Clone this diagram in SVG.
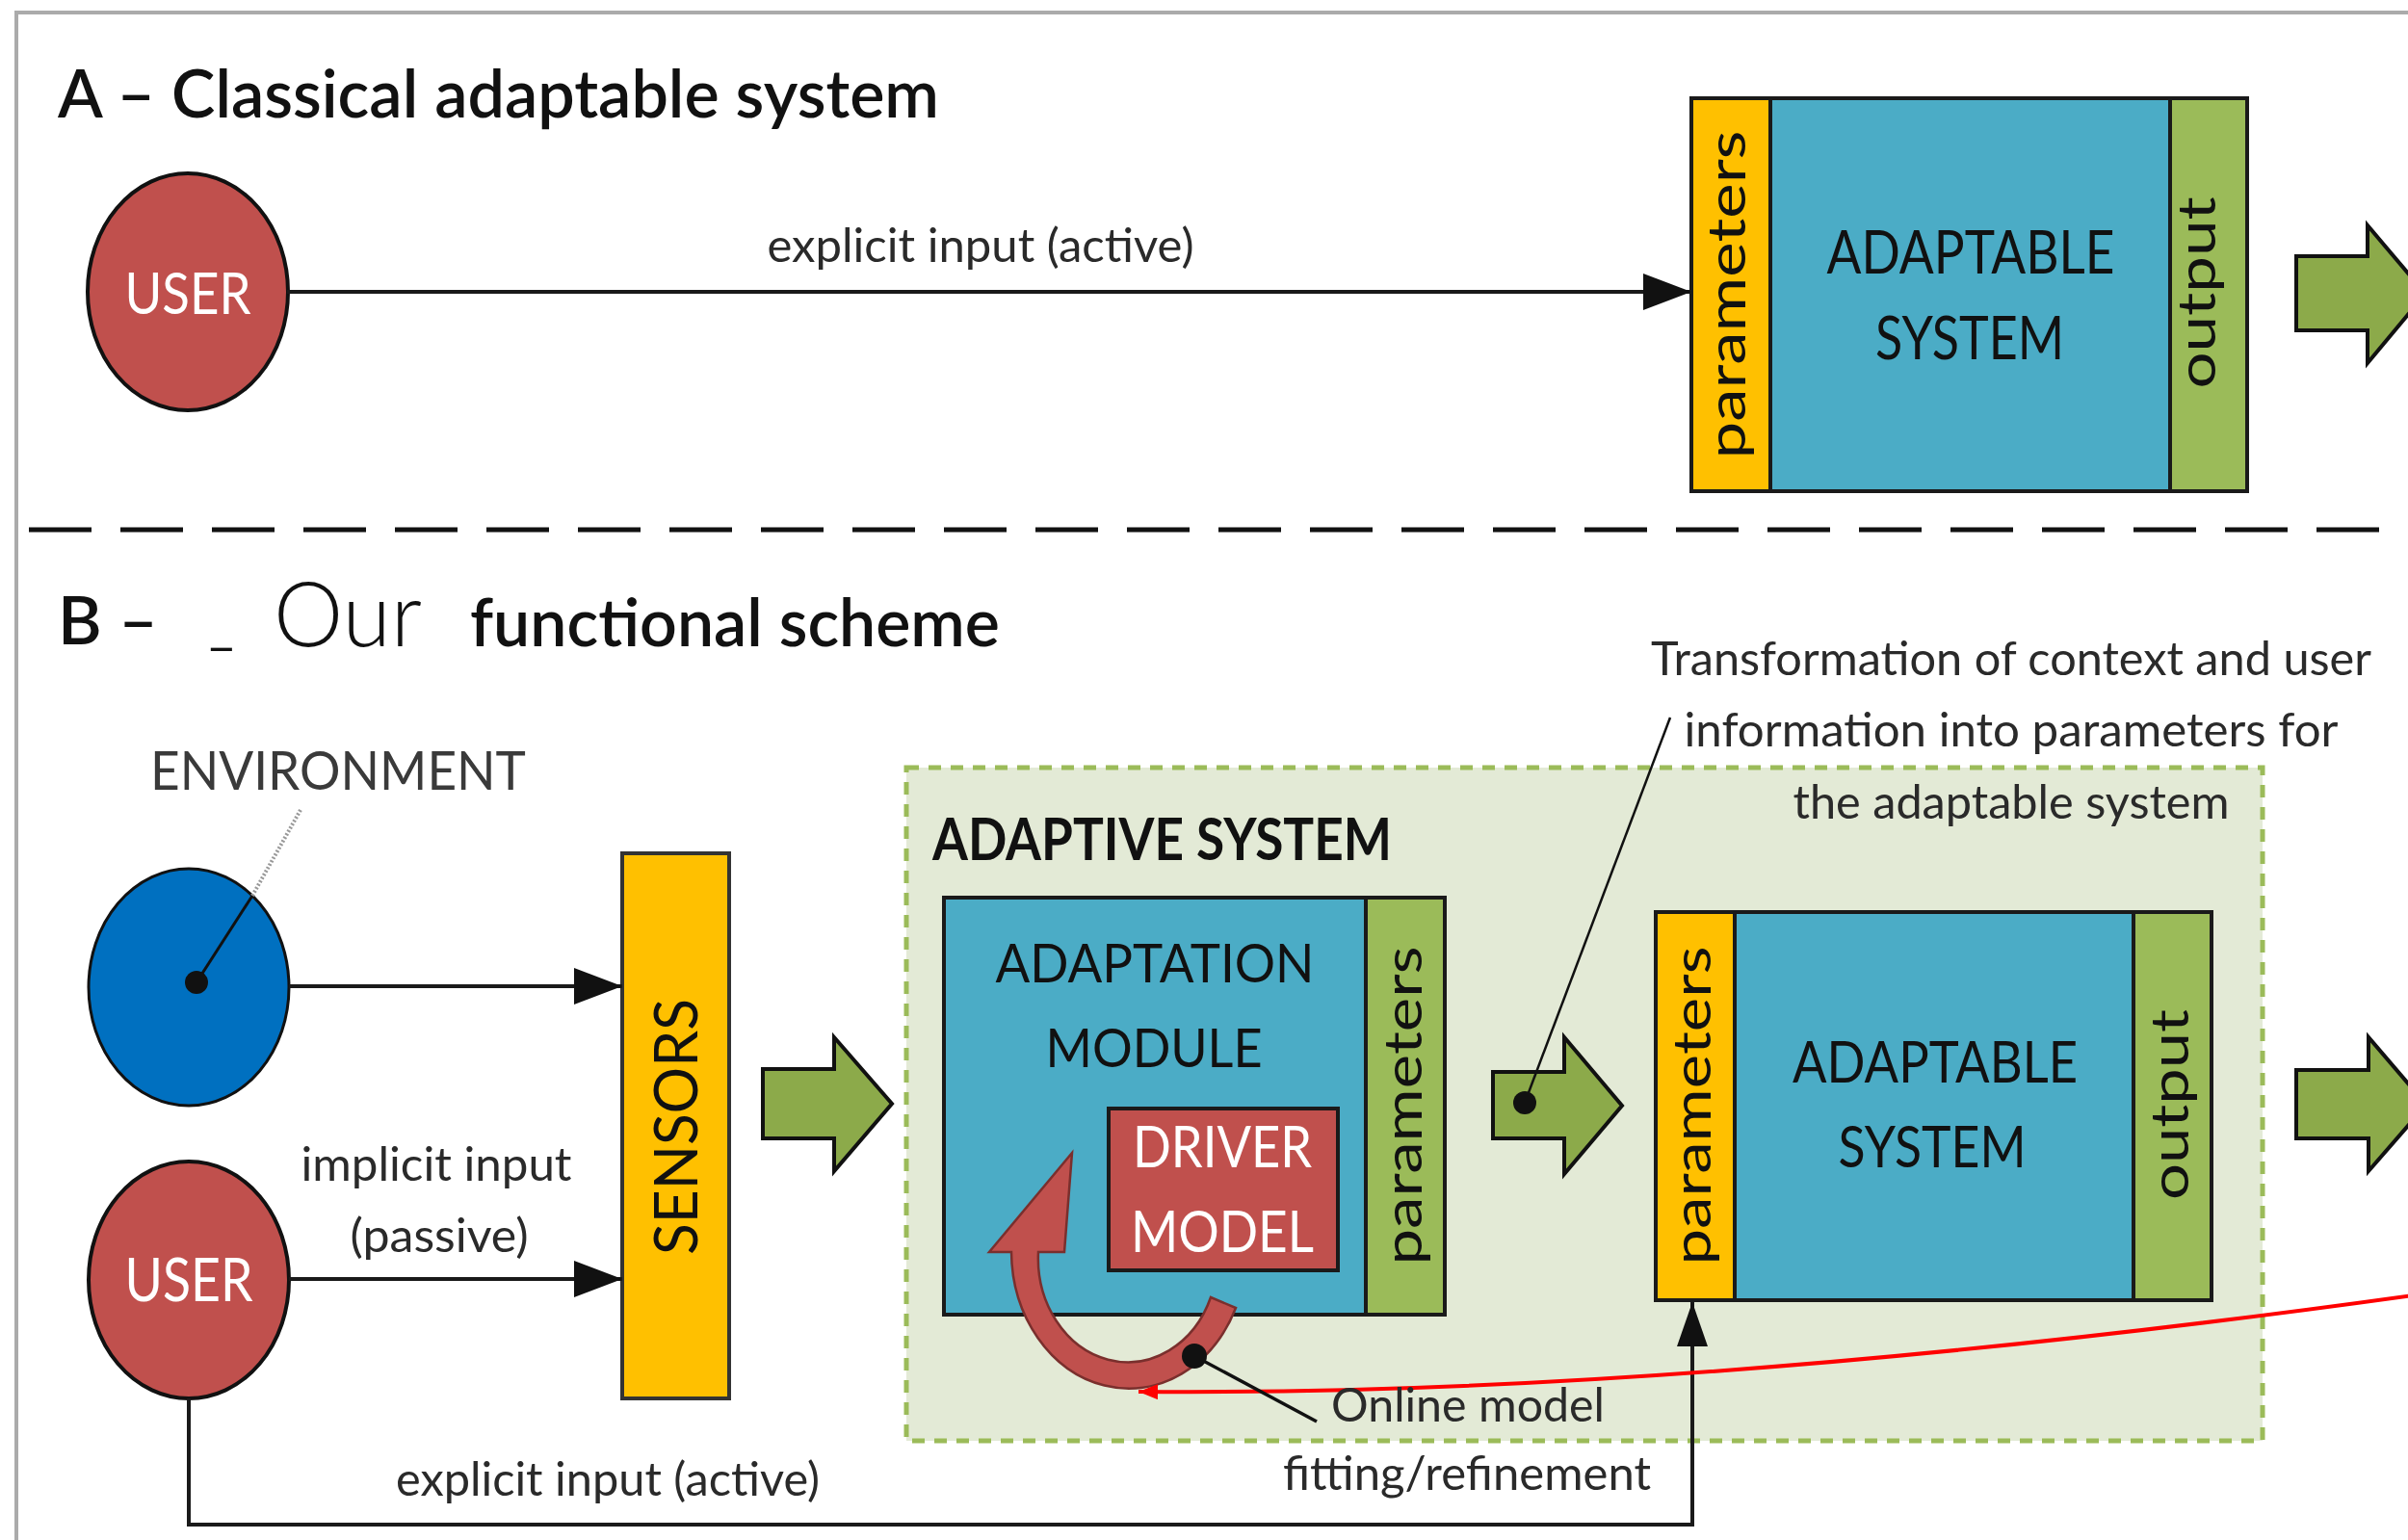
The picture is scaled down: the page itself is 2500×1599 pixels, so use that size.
<svg xmlns="http://www.w3.org/2000/svg" width="2500" height="1599" viewBox="0 0 2500 1599">
  <defs>
    <style>
      text { font-family: Lato, "Open Sans", "Liberation Sans", sans-serif; fill: #111; }
      .box { stroke: #1a1a1a; stroke-width: 4; }
      .blue { fill: #4BACC6; }
      .yellow { fill: #FFC000; }
      .green { fill: #9BBB59; }
      .red { fill: #C0504D; }
      .blockarrow { fill: #8CAA4A; stroke: #111; stroke-width: 4; stroke-linejoin: miter; }
      .conn { fill: none; stroke: #1a1a1a; stroke-width: 4; }
      .lbl { font-size: 48px; fill: #2a2a2a; }
      .cap { font-size: 60px; }
      .rot { font-size: 54px; }
      .white { fill: #fff; }
      .mid { text-anchor: middle; }
    </style>
    <marker id="ah" markerUnits="userSpaceOnUse" markerWidth="50" markerHeight="38" refX="50" refY="19" orient="auto">
      <path d="M0 0 L50 19 L0 38 Z" fill="#111"/>
    </marker>
    <marker id="ahs" markerUnits="userSpaceOnUse" markerWidth="46" markerHeight="32" refX="46" refY="16" orient="auto">
      <path d="M0 0 L46 16 L0 32 Z" fill="#111"/>
    </marker>
    <marker id="ahr" markerUnits="userSpaceOnUse" markerWidth="20" markerHeight="16" refX="20" refY="8" orient="auto">
      <path d="M0 0 L20 8 L0 16 Z" fill="#FF0000"/>
    </marker>
  </defs>

  <!-- frame and section divider -->
  <path d="M17 1599 V13 H2500" fill="none" stroke="#ababab" stroke-width="4"/>
  <path d="M30 550 H2500" fill="none" stroke="#111" stroke-width="5" stroke-dasharray="65 30"/>

  <!-- section A -->
  <text x="60" y="122" font-size="70" font-weight="600" textLength="915" lengthAdjust="spacingAndGlyphs">A – Classical adaptable system</text>

  <g id="userA">
    <ellipse cx="195" cy="303" rx="104" ry="123" class="red" stroke="#111" stroke-width="4"/>
    <text x="195" y="326" class="cap white mid" font-size="62" textLength="131" lengthAdjust="spacingAndGlyphs">USER</text>
  </g>

  <g id="adaptableA">
    <rect x="1838" y="102" width="415" height="408" class="blue box"/>
    <rect x="1756" y="102" width="82" height="408" class="yellow box"/>
    <rect x="2253" y="102" width="80" height="408" class="green box"/>
    <text x="2046" y="284" class="mid" font-size="62" textLength="299" lengthAdjust="spacingAndGlyphs">ADAPTABLE</text>
    <text x="2045" y="373" class="mid" font-size="62" textLength="196" lengthAdjust="spacingAndGlyphs">SYSTEM</text>
    <text transform="translate(1812 306) rotate(-90)" class="rot mid" textLength="341" lengthAdjust="spacingAndGlyphs">parameters</text>
    <text transform="translate(2300 304) rotate(-90)" class="rot mid" textLength="199" lengthAdjust="spacingAndGlyphs">output</text>
  </g>

  <g id="outA">
    <path d="M2384 266 H2458 V234 L2518 305 L2458 377 V343 H2384 Z" class="blockarrow"/>
  </g>

  <!-- section B -->
  <text x="60" y="669" font-size="70" font-weight="600">B –</text>
  <text x="217" y="668" font-size="56">_</text>
  <text x="284" y="671" font-size="92" font-weight="300" font-family="'Open Sans', Lato, sans-serif" textLength="154" lengthAdjust="spacingAndGlyphs">Our</text>
  <text x="488" y="671" font-size="70" font-weight="600" textLength="550" lengthAdjust="spacingAndGlyphs">functional scheme</text>

  <g id="adaptive">
    <rect x="941" y="797" width="1408" height="699" fill="#E3EAD6" stroke="#9BBB59" stroke-width="5" stroke-dasharray="13 10"/>
    <text x="968" y="893" font-size="61" font-weight="700" textLength="477" lengthAdjust="spacingAndGlyphs">ADAPTIVE SYSTEM</text>
  </g>

  <g id="transformNote">
    <text x="2088" y="701" class="lbl mid" font-size="50" textLength="748" lengthAdjust="spacingAndGlyphs">Transformation of context and user</text>
    <text x="2088" y="775" class="lbl mid" font-size="50" textLength="679" lengthAdjust="spacingAndGlyphs">information into parameters for</text>
    <text x="2088" y="850" class="lbl mid" font-size="50" textLength="453" lengthAdjust="spacingAndGlyphs">the adaptable system</text>
  </g>

  <g id="environment">
    <text x="351" y="820" class="mid" font-size="56" fill="#3a3a3a" style="fill:#3a3a3a" textLength="390" lengthAdjust="spacingAndGlyphs">ENVIRONMENT</text>
    <ellipse cx="196" cy="1025" rx="104" ry="123" fill="#0070C0" stroke="#111" stroke-width="3"/>
  </g>

  <g id="userB">
    <ellipse cx="196" cy="1329" rx="104" ry="123" class="red" stroke="#111" stroke-width="4"/>
    <text x="196" y="1351" class="mid white" font-size="62" textLength="133" lengthAdjust="spacingAndGlyphs">USER</text>
  </g>

  <g id="sensors">
    <rect x="646" y="886" width="111" height="566" class="yellow" stroke="#333" stroke-width="4"/>
    <text transform="translate(724 1170) rotate(-90)" class="mid" font-size="62" textLength="266" lengthAdjust="spacingAndGlyphs">SENSORS</text>
  </g>

  <g id="adaptationModule">
    <rect x="980" y="932" width="438" height="433" class="blue box"/>
    <rect x="1418" y="932" width="82" height="433" class="green box"/>
    <text x="1199" y="1020" class="mid" font-size="57" textLength="331" lengthAdjust="spacingAndGlyphs">ADAPTATION</text>
    <text x="1198" y="1108" class="mid" font-size="57" textLength="225" lengthAdjust="spacingAndGlyphs">MODULE</text>
    <text transform="translate(1476 1148) rotate(-90)" class="rot mid" textLength="331" lengthAdjust="spacingAndGlyphs">parameters</text>
  </g>

  <g id="driverModel">
    <rect x="1151" y="1151" width="238" height="168" class="red box"/>
    <text x="1269" y="1212" class="mid white" font-size="60" textLength="186" lengthAdjust="spacingAndGlyphs">DRIVER</text>
    <text x="1269" y="1300" class="mid white" font-size="60" textLength="190" lengthAdjust="spacingAndGlyphs">MODEL</text>
  </g>

  <g id="refinementLoop">
    <path d="M1027 1300 L1113 1197 L1105 1300 L1078 1300 A93 108 0 0 0 1257 1347 L1283 1358 A122 143 0 0 1 1050 1300 Z" fill="#C0504D" stroke="#7a2f2d" stroke-width="2.5" stroke-linejoin="miter"/>
  </g>

  <g id="adaptableB">
    <rect x="1801" y="947" width="414" height="403" class="blue box"/>
    <rect x="1719" y="947" width="82" height="403" class="yellow box"/>
    <rect x="2215" y="947" width="81" height="403" class="green box"/>
    <text x="2009" y="1124" class="mid" font-size="60" textLength="296" lengthAdjust="spacingAndGlyphs">ADAPTABLE</text>
    <text x="2006" y="1212" class="mid" font-size="60" textLength="195" lengthAdjust="spacingAndGlyphs">SYSTEM</text>
    <text transform="translate(1776 1148) rotate(-90)" class="rot mid" textLength="331" lengthAdjust="spacingAndGlyphs">parameters</text>
    <text transform="translate(2272 1147) rotate(-90)" class="rot mid" textLength="198" lengthAdjust="spacingAndGlyphs">output</text>
  </g>

  <g id="flowArrows">
    <path d="M792 1110 H866 V1077 L926 1146 L866 1216 V1182 H792 Z" class="blockarrow"/>
    <path d="M1550 1113 H1624 V1077 L1684 1148 L1624 1219 V1182 H1550 Z" class="blockarrow"/>
    <path d="M2384 1111 H2459 V1077 L2519 1147 L2459 1216 V1182 H2384 Z" class="blockarrow"/>
  </g>

  <g id="connectors">
    <path d="M298 303 H1756" class="conn" marker-end="url(#ah)"/>
    <path d="M300 1024 H646" class="conn" marker-end="url(#ah)"/>
    <path d="M300 1328 H646" class="conn" marker-end="url(#ah)"/>
    <path d="M196 1452 V1583 H1757 V1352" class="conn" marker-end="url(#ahs)"/>
    <path d="M2505 1345 Q1750 1450 1182 1445" fill="none" stroke="#FF0000" stroke-width="4" marker-end="url(#ahr)"/>
    <!-- leader lines -->
    <path d="M204 1020 L262 930" fill="none" stroke="#111" stroke-width="3"/>
    <path d="M262 930 L312 841" fill="none" stroke="#999" stroke-width="4" stroke-dasharray="2 2"/>
    <circle cx="204" cy="1020" r="12" fill="#111"/>
    <path d="M1583 1145 L1734 745" fill="none" stroke="#111" stroke-width="2.5"/>
    <circle cx="1583" cy="1145" r="12" fill="#111"/>
    <path d="M1240 1408 L1367 1476" fill="none" stroke="#111" stroke-width="3.5"/>
    <circle cx="1240" cy="1408" r="13" fill="#111"/>
  </g>

  <g id="labels">
    <text x="1018" y="272" class="lbl mid" font-size="50" textLength="443" lengthAdjust="spacingAndGlyphs">explicit input (active)</text>
    <text x="453" y="1226" class="lbl mid" textLength="281" lengthAdjust="spacingAndGlyphs">implicit input</text>
    <text x="456" y="1300" class="lbl mid" textLength="185" lengthAdjust="spacingAndGlyphs">(passive)</text>
    <text x="631" y="1553" class="lbl mid" font-size="50" textLength="440" lengthAdjust="spacingAndGlyphs">explicit input (active)</text>
    <text x="1382" y="1476" class="lbl" font-size="54" textLength="284" lengthAdjust="spacingAndGlyphs">Online model</text>
    <text x="1332" y="1547" class="lbl" font-size="54" textLength="382" lengthAdjust="spacingAndGlyphs">fitting/refinement</text>
  </g>
</svg>
